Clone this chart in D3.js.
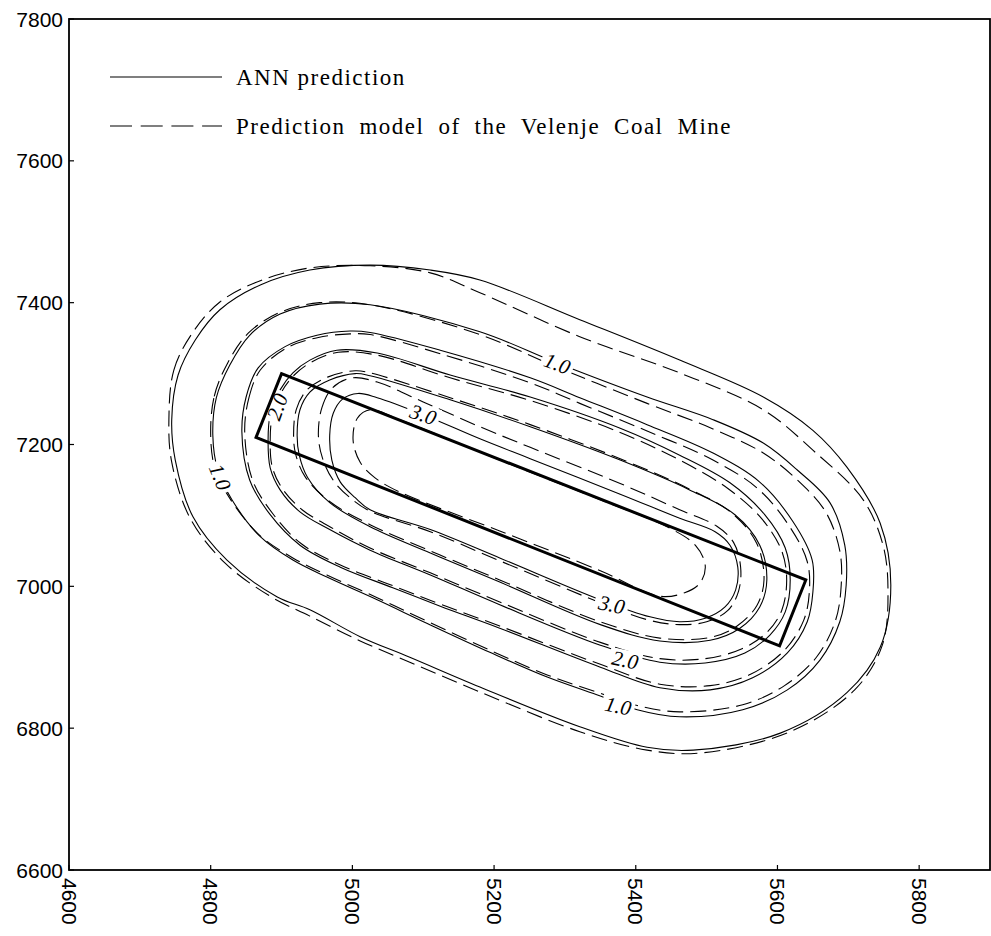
<!DOCTYPE html>
<html>
<head>
<meta charset="UTF-8">
<title>Subsidence contours</title>
<script src="https://d3js.org/d3.v7.min.js"></script>
<style>
  body { margin: 0; background: #fff; }
</style>
</head>
<body>
<div id="chart"></div>
<script>
// axis ticks
const xTicks = [4600, 4800, 5000, 5200, 5400, 5600, 5800];
const yTicks = [6600, 6800, 7000, 7200, 7400, 7600, 7800];

// ANN prediction contours (solid), [x, y] pairs
const ann05 = [[4745,7235],[4754,7298],[4778,7347],[4813,7390],[4870,7425],[4940,7446],[5025,7453],[5110,7446],[5180,7432],[5321,7376],[5462,7319],[5580,7267],[5650,7220],[5698,7168],[5745,7089],[5760,7002],[5745,6914],[5698,6850],[5604,6793],[5481,6769],[5416,6773],[5321,6802],[5180,6858],[5081,6900],[5011,6929],[4940,6967],[4894,6985],[4823,7037],[4775,7098],[4750,7178]];
const ann10 = [[4803,7213],[4808,7266],[4827,7312],[4855,7354],[4898,7384],[4954,7398],[5025,7397],[5180,7359],[5289,7315],[5416,7267],[5509,7235],[5580,7202],[5628,7164],[5674,7118],[5695,7058],[5697,7002],[5688,6950],[5660,6896],[5614,6854],[5551,6826],[5462,6816],[5402,6826],[5345,6847],[5275,6872],[5194,6907],[5105,6948],[5035,6981],[4964,7013],[4916,7037],[4870,7070],[4830,7122],[4810,7164]];
const ann15 = [[4844,7218],[4850,7267],[4867,7308],[4905,7338],[4950,7354],[4997,7360],[5025,7358],[5124,7333],[5251,7294],[5321,7266],[5416,7228],[5509,7188],[5575,7147],[5622,7091],[5649,7037],[5650,6992],[5642,6950],[5614,6906],[5565,6871],[5505,6854],[5434,6857],[5350,6886],[5208,6941],[5124,6972],[5057,6998],[4983,7027],[4926,7058],[4884,7101],[4855,7150]];
const ann20 = [[4881,7206],[4884,7242],[4898,7277],[4916,7301],[4940,7319],[4978,7333],[5035,7329],[5138,7298],[5251,7267],[5378,7223],[5462,7185],[5533,7146],[5582,7101],[5611,7054],[5618,7009],[5611,6964],[5589,6931],[5554,6906],[5498,6892],[5434,6893],[5350,6917],[5208,6974],[5110,7016],[5025,7051],[4968,7080],[4926,7105],[4898,7136],[4884,7167]];
const ann25 = [[4922,7213],[4926,7249],[4940,7274],[4968,7291],[5004,7300],[5025,7297],[5138,7263],[5251,7225],[5378,7178],[5476,7136],[5540,7101],[5575,7058],[5585,7009],[5575,6971],[5547,6941],[5505,6924],[5434,6923],[5350,6946],[5208,7006],[5110,7047],[5025,7084],[4968,7118],[4937,7153],[4925,7185]];
const ann30 = [[4968,7213],[4973,7244],[4986,7264],[5008,7272],[5035,7266],[5100,7242],[5180,7208],[5251,7180],[5378,7130],[5462,7096],[5512,7077],[5533,7058],[5544,7027],[5541,6995],[5526,6971],[5498,6955],[5462,6950],[5420,6957],[5350,6981],[5208,7040],[5110,7080],[5025,7108],[5004,7125],[4983,7147],[4971,7178]];

// Velenje Coal Mine model contours (dashed)
const vcm05 = [[4741,7235],[4748,7305],[4774,7357],[4813,7401],[4870,7431],[4940,7449],[5025,7452],[5110,7442],[5180,7414],[5321,7352],[5462,7301],[5580,7249],[5650,7192],[5721,7122],[5749,7058],[5756,6995],[5748,6917],[5709,6854],[5618,6795],[5491,6765],[5416,6769],[5321,6795],[5180,6851],[5081,6893],[5011,6923],[4940,6958],[4884,6986],[4820,7033],[4771,7096],[4745,7175]];
const vcm10 = [[4800,7213],[4805,7268],[4824,7315],[4853,7357],[4897,7386],[4954,7400],[5025,7397],[5180,7355],[5289,7309],[5416,7258],[5509,7222],[5580,7188],[5628,7150],[5668,7105],[5688,7050],[5690,7002],[5682,6952],[5655,6900],[5610,6860],[5551,6833],[5462,6823],[5402,6832],[5345,6851],[5275,6875],[5194,6910],[5105,6951],[5035,6984],[4964,7016],[4916,7040],[4868,7073],[4827,7124],[4806,7166]];
const vcm15 = [[4848,7218],[4854,7266],[4870,7305],[4907,7336],[4952,7351],[4997,7356],[5025,7355],[5124,7328],[5251,7287],[5321,7258],[5416,7219],[5509,7178],[5572,7138],[5616,7086],[5642,7035],[5645,6992],[5637,6952],[5610,6910],[5562,6876],[5505,6860],[5434,6862],[5350,6890],[5208,6944],[5124,6975],[5057,7001],[4983,7030],[4928,7060],[4888,7102],[4859,7150]];
const vcm20 = [[4884,7206],[4887,7240],[4900,7274],[4918,7298],[4942,7316],[4980,7330],[5035,7326],[5138,7294],[5251,7262],[5378,7217],[5462,7178],[5530,7138],[5578,7095],[5606,7050],[5613,7009],[5606,6966],[5585,6935],[5550,6912],[5498,6898],[5434,6898],[5350,6921],[5208,6978],[5110,7019],[5025,7054],[4970,7083],[4929,7108],[4901,7138],[4887,7168]];
const vcm25 = [[4917,7213],[4921,7250],[4936,7277],[4965,7295],[5004,7304],[5025,7301],[5138,7266],[5251,7228],[5378,7180],[5474,7138],[5536,7103],[5571,7060],[5581,7009],[5571,6973],[5543,6944],[5505,6928],[5434,6927],[5350,6950],[5208,7009],[5110,7050],[5025,7087],[4966,7121],[4933,7155],[4920,7186]];
const vcm30 = [[4952,7213],[4957,7252],[4972,7280],[5000,7294],[5035,7288],[5100,7260],[5180,7225],[5251,7196],[5378,7145],[5462,7108],[5514,7085],[5538,7062],[5548,7027],[5545,6993],[5530,6966],[5500,6950],[5462,6946],[5420,6952],[5350,6977],[5208,7036],[5110,7077],[5025,7106],[4998,7124],[4974,7148],[4958,7180]];
const vcm35 = [[5001,7206],[5007,7237],[5025,7249],[5067,7235],[5208,7178],[5350,7122],[5448,7082],[5484,7058],[5498,7030],[5491,7005],[5469,6991],[5434,6986],[5350,7022],[5208,7078],[5067,7133],[5032,7153],[5011,7175]];

const annContours = [ann05, ann10, ann15, ann20, ann25, ann30];
const vcmContours = [vcm05, vcm10, vcm15, vcm20, vcm25, vcm30, vcm35];

// mining panel outline
const panel = [[4900,7300],[5640,7009],[5603,6916],[4864,7210]];

// contour labels: text, x, y, angle
const labelText = ["1.0", "2.0", "3.0", "1.0", "3.0", "2.0", "1.0"];
const labelX = [4813, 4894, 5100, 5289, 5366, 5385, 5375];
const labelY = [7154, 7253, 7242, 7314, 6974, 6896, 6831];
const labelAngle = [68, -70, 18, 20, 12, 12, 12];

const legendNames = ["ANN prediction", "Prediction model of the Velenje Coal Mine"];
const legendWidths = [169, 496];

const margin = {top: 19, right: 1, bottom: 66, left: 69};
const W = 991, H = 936;
const width = W - margin.left - margin.right;
const height = H - margin.top - margin.bottom;

const svg = d3.select("#chart").append("svg")
  .attr("width", W).attr("height", H)
  .append("g")
  .attr("transform", `translate(${margin.left},${margin.top})`);

const x = d3.scaleLinear().domain([4600, 5900]).range([0, width]);
const y = d3.scaleLinear().domain([6600, 7800]).range([height, 0]);

const line = d3.line()
  .x(d => x(d[0])).y(d => y(d[1]))
  .curve(d3.curveCatmullRomClosed.alpha(0.5));

// contours
svg.append("g").selectAll("path")
  .data(vcmContours)
  .join("path")
  .attr("d", line)
  .attr("fill", "none")
  .attr("stroke", "#000")
  .attr("stroke-width", 1.1)
  .attr("stroke-dasharray", "16,7");

svg.append("g").selectAll("path")
  .data(annContours)
  .join("path")
  .attr("d", line)
  .attr("fill", "none")
  .attr("stroke", "#000")
  .attr("stroke-width", 1.1);

// contour labels with a white gap behind them
labelText.forEach((t, i) => {
  const g = svg.append("g")
    .attr("transform", `translate(${x(labelX[i])},${y(labelY[i])}) rotate(${labelAngle[i]})`);
  const txt = g.append("text")
    .attr("text-anchor", "middle")
    .attr("dominant-baseline", "central")
    .attr("font-family", "'Liberation Serif', 'DejaVu Serif', serif")
    .attr("font-style", "italic")
    .attr("font-size", 21)
    .text(t);
  const bb = txt.node().getBBox();
  g.insert("rect", "text")
    .attr("x", bb.x - 3).attr("y", bb.y + 2)
    .attr("width", bb.width + 6).attr("height", bb.height - 4)
    .attr("fill", "#fff");
});

// panel
svg.append("path")
  .attr("d", d3.line().x(d => x(d[0])).y(d => y(d[1])).curve(d3.curveLinearClosed)(panel))
  .attr("fill", "none")
  .attr("stroke", "#000")
  .attr("stroke-width", 3)
  .attr("stroke-linejoin", "miter");

// frame
svg.append("rect")
  .attr("width", width).attr("height", height)
  .attr("fill", "none")
  .attr("stroke", "#000")
  .attr("stroke-width", 1.8);

// x axis: inward ticks, rotated labels
const xAxis = svg.append("g").attr("transform", `translate(0,${height})`);
xAxis.selectAll("line")
  .data(xTicks)
  .join("line")
  .attr("x1", d => x(d)).attr("x2", d => x(d))
  .attr("y1", 0).attr("y2", -5)
  .attr("stroke", "#000").attr("stroke-width", 1.2);
xAxis.selectAll("text")
  .data(xTicks)
  .join("text")
  .attr("transform", d => `translate(${x(d)},8) rotate(90)`)
  .attr("dominant-baseline", "central")
  .attr("font-family", "'Liberation Sans', Arial, sans-serif")
  .attr("font-size", 21)
  .text(d => d);

// y axis
const yAxis = svg.append("g");
yAxis.selectAll("line")
  .data(yTicks)
  .join("line")
  .attr("x1", 0).attr("x2", 5)
  .attr("y1", d => y(d)).attr("y2", d => y(d))
  .attr("stroke", "#000").attr("stroke-width", 1.2);
yAxis.selectAll("text")
  .data(yTicks)
  .join("text")
  .attr("x", -6)
  .attr("y", d => y(d))
  .attr("text-anchor", "end")
  .attr("dominant-baseline", "central")
  .attr("font-family", "'Liberation Sans', Arial, sans-serif")
  .attr("font-size", 21)
  .text(d => d);

// legend
const legend = svg.append("g").attr("transform", "translate(41,58)");
legend.selectAll("line")
  .data(legendNames)
  .join("line")
  .attr("x1", 0).attr("x2", 112)
  .attr("y1", (d, i) => i * 49).attr("y2", (d, i) => i * 49)
  .attr("stroke", "#000")
  .attr("stroke-width", 1.1)
  .attr("stroke-dasharray", (d, i) => i === 0 ? null : "22,8.7");
legend.selectAll("text")
  .data(legendNames)
  .join("text")
  .attr("x", 126)
  .attr("y", (d, i) => i * 49)
  .attr("dominant-baseline", "central")
  .attr("font-family", "'Liberation Serif', 'DejaVu Serif', serif")
  .attr("font-size", 23)
  .attr("letter-spacing", 1.5)
  .text(d => d)
  .each(function(d, i) {
    // widen the gaps between words so the line spans the same width
    const natural = this.getComputedTextLength();
    const gaps = d.split(" ").length - 1;
    d3.select(this).attr("word-spacing", Math.max(0, (legendWidths[i] - natural) / gaps));
  });
</script>
</body>
</html>
